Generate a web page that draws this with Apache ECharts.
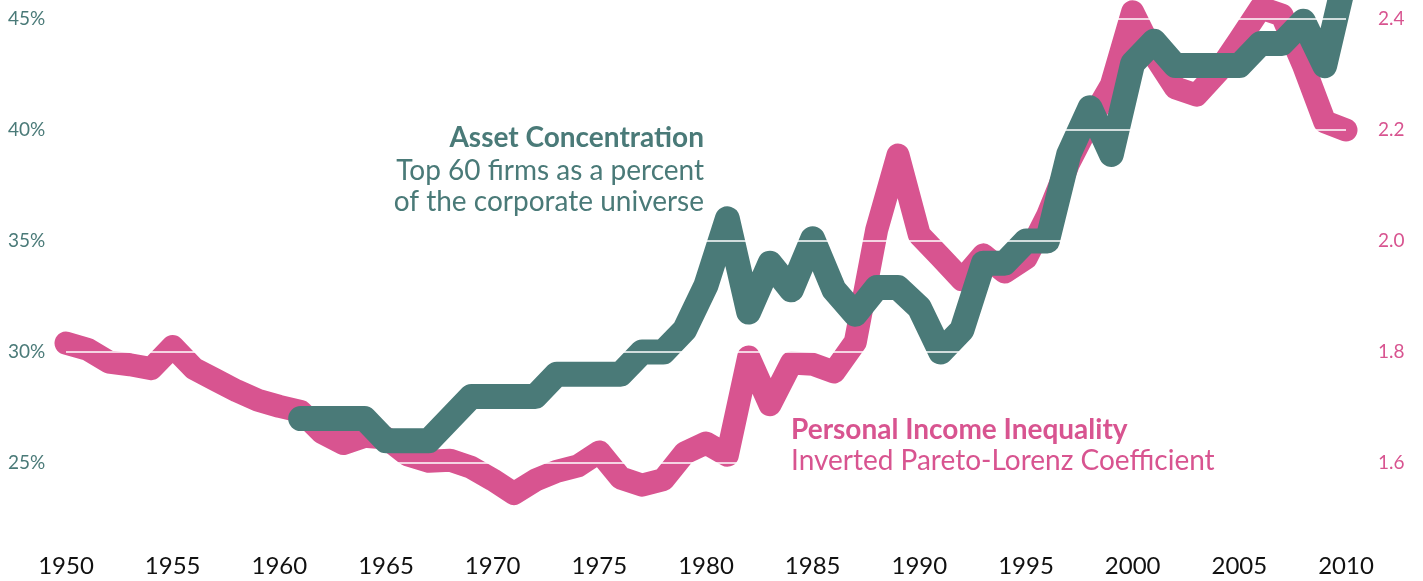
<!DOCTYPE html>
<html>
<head>
<meta charset="UTF-8">
<title>Asset Concentration vs Income Inequality</title>
<script src="https://cdn.jsdelivr.net/npm/echarts@6/dist/echarts.min.js"></script>
<style>
  html, body { margin: 0; padding: 0; background: #fff; }
  #chart { width: 1423px; height: 581px; }
</style>
</head>
<body>
<div id="chart"></div>
<script>
    // years on the x axis
    var years = [1950, 1951, 1952, 1953, 1954, 1955, 1956, 1957, 1958, 1959,
        1960, 1961, 1962, 1963, 1964, 1965, 1966, 1967, 1968, 1969,
        1970, 1971, 1972, 1973, 1974, 1975, 1976, 1977, 1978, 1979,
        1980, 1981, 1982, 1983, 1984, 1985, 1986, 1987, 1988, 1989,
        1990, 1991, 1992, 1993, 1994, 1995, 1996, 1997, 1998, 1999,
        2000, 2001, 2002, 2003, 2004, 2005, 2006, 2007, 2008, 2009, 2010];

    // inverted Pareto-Lorenz coefficient, 1950-2010 (right axis)
    var income = [1.816, 1.805, 1.782, 1.777, 1.770, 1.810, 1.770, 1.750, 1.730, 1.713,
        1.702, 1.693, 1.655, 1.635, 1.648, 1.645, 1.615, 1.603, 1.605, 1.592,
        1.570, 1.545, 1.569, 1.585, 1.595, 1.620, 1.573, 1.560, 1.570, 1.618,
        1.636, 1.614, 1.791, 1.705, 1.780, 1.778, 1.764, 1.818, 2.020, 2.155,
        2.011, 1.971, 1.930, 1.975, 1.944, 1.969, 2.045, 2.140, 2.215, 2.281,
        2.413, 2.335, 2.276, 2.263, 2.305, 2.362, 2.420, 2.407, 2.317, 2.215, 2.200];

    // top 60 firms, % of corporate universe, starts 1961 (left axis)
    var assetStart = 1961;
    var assets = [27, 27, 27, 27, 26, 26, 26, 27, 28, 28,
        28, 28, 29, 29, 29, 29, 30, 30, 31, 33,
        36, 31.8, 34, 32.8, 35.1, 32.8, 31.7, 32.9, 32.9, 32,
        30, 31, 34, 34, 35, 35, 38.9, 41, 38.9, 43,
        44, 42.9, 42.9, 42.9, 42.9, 43.9, 43.9, 44.9, 42.9, 47];

    var leftTicks = [25, 30, 35, 40, 45];

    var TEAL = '#4a7a78';
    var PINK = '#d85490';
    var FONT = 'Lato';

    var incomeData = [];
    for (var i = 0; i < income.length; i++) {
        incomeData.push([years[i], income[i]]);
    }
    var assetData = [];
    for (var j = 0; j < assets.length; j++) {
        assetData.push([years[years.indexOf(assetStart) + j], assets[j]]);
    }

    var chart = echarts.init(document.getElementById('chart'));
    chart.setOption({
        backgroundColor: '#fff',
        animation: false,
        grid: { left: 66, right: 77, top: 19, bottom: 7 },
        xAxis: {
            type: 'value',
            min: 1950, max: 2010, interval: 5,
            offset: -30,
            axisLine: { show: false },
            axisTick: { show: false },
            splitLine: { show: false },
            axisLabel: {
                margin: 10,
                color: '#111',
                fontFamily: FONT,
                fontSize: 24,
                formatter: function (v) { return String(v); }
            }
        },
        yAxis: [{
            type: 'value',
            min: 20, max: 45, interval: 5,
            axisLine: { show: false },
            axisTick: { show: false },
            splitLine: { show: false },
            axisLabel: {
                showMinLabel: false,
                align: 'left',
                margin: 58,
                color: TEAL,
                fontFamily: FONT,
                fontSize: 19,
                formatter: '{value}%'
            }
        }, {
            type: 'value',
            min: 1.4, max: 2.4, interval: 0.2,
            position: 'right',
            axisLine: { show: false },
            axisTick: { show: false },
            splitLine: { show: false },
            axisLabel: {
                showMinLabel: false,
                margin: 32,
                color: PINK,
                fontFamily: FONT,
                fontSize: 19,
                formatter: function (v) { return v.toFixed(1); }
            }
        }],
        series: [{
            name: 'Personal Income Inequality',
            type: 'line',
            yAxisIndex: 1,
            data: incomeData,
            showSymbol: false,
            clip: false,
            z: 2,
            lineStyle: { color: PINK, width: 23, cap: 'round', join: 'round' }
        }, {
            name: 'Asset Concentration',
            type: 'line',
            yAxisIndex: 0,
            data: assetData,
            showSymbol: false,
            clip: false,
            z: 3,
            lineStyle: { color: TEAL, width: 25, cap: 'round', join: 'round' }
        }, {
            // white grid lines drawn over the thick lines
            type: 'line',
            yAxisIndex: 0,
            data: [],
            z: 10,
            markLine: {
                silent: true,
                symbol: 'none',
                label: { show: false },
                lineStyle: { color: '#fff', width: 1.5, type: 'solid' },
                data: leftTicks.map(function (v) { return { yAxis: v }; })
            }
        }],
        graphic: [{
            type: 'text', right: 1423 - 704, top: 124, z: 100,
            style: { text: 'Asset Concentration', fill: TEAL, font: 'bold 28px Lato', textAlign: 'right' }
        }, {
            type: 'text', right: 1423 - 704, top: 155, z: 100,
            style: { text: 'Top 60 firms as a percent\nof the corporate universe', fill: TEAL,
                font: '28px Lato', lineHeight: 31, textAlign: 'right' }
        }, {
            type: 'text', left: 791, top: 416, z: 100,
            style: { text: 'Personal Income Inequality', fill: PINK, font: 'bold 28px Lato' }
        }, {
            type: 'text', left: 791, top: 447, z: 100,
            style: { text: 'Inverted Pareto-Lorenz Coefficient', fill: PINK, font: '28px Lato' }
        }]
    });
</script>
</body>
</html>
